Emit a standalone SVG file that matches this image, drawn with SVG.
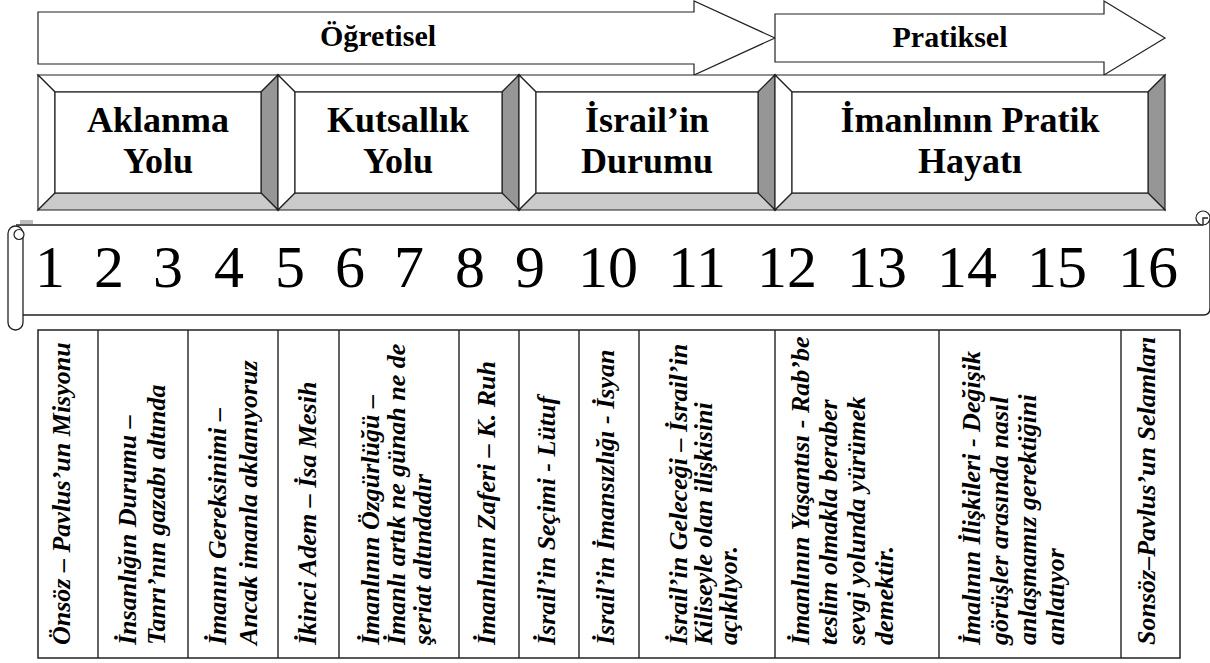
<svg xmlns="http://www.w3.org/2000/svg" width="1210" height="663" viewBox="0 0 1210 663">
<style>
.ln{fill:none;stroke:#222;stroke-width:1.4}
.wh{fill:#fff;stroke:#222;stroke-width:1.2;stroke-linejoin:miter}
.dk{fill:#969696;stroke:#222;stroke-width:1.2}
.lt{fill:#cbcbcb;stroke:#222;stroke-width:1.2}
text{font-family:'Liberation Serif','DejaVu Serif',serif;fill:#000}
.hd{font-weight:bold;font-size:30px;text-anchor:middle}
.bt{font-weight:bold;font-size:36px;text-anchor:middle}
.nm{font-size:60px;text-anchor:middle}
.tx{font-weight:bold;font-style:italic;font-size:26px}
</style>
<rect width="1210" height="663" fill="#fff"/>

<g id="arrow-ogretisel">
<polygon class="wh" points="38,12 694,12 694,1 775,38 694,75 694,64 38,64"/>
<text class="hd" x="378" y="46">Öğretisel</text>
</g>
<g id="arrow-pratiksel">
<polygon class="wh" points="775,14 1104,14 1104,1 1165,38 1104,75 1104,62 775,62"/>
<text class="hd" x="950" y="47">Pratiksel</text>
</g>

<g id="box-aklanma">
<polygon class="wh" points="38,75 278,75 261,92 55,92"/>
<polygon class="wh" points="38,75 55,92 55,193 38,210"/>
<polygon class="dk" points="278,75 278,210 261,193 261,92"/>
<polygon class="lt" points="38,210 55,193 261,193 278,210"/>
<rect class="wh" x="55" y="92" width="206" height="101"/>
<text class="bt" x="158" y="132">Aklanma</text>
<text class="bt" x="158" y="173">Yolu</text>
</g>
<g id="box-kutsallik">
<polygon class="wh" points="278,75 519,75 502,92 295,92"/>
<polygon class="wh" points="278,75 295,92 295,193 278,210"/>
<polygon class="dk" points="519,75 519,210 502,193 502,92"/>
<polygon class="lt" points="278,210 295,193 502,193 519,210"/>
<rect class="wh" x="295" y="92" width="207" height="101"/>
<text class="bt" x="398" y="132">Kutsallık</text>
<text class="bt" x="398" y="173">Yolu</text>
</g>
<g id="box-israil">
<polygon class="wh" points="519,75 775,75 758,92 536,92"/>
<polygon class="wh" points="519,75 536,92 536,193 519,210"/>
<polygon class="dk" points="775,75 775,210 758,193 758,92"/>
<polygon class="lt" points="519,210 536,193 758,193 775,210"/>
<rect class="wh" x="536" y="92" width="222" height="101"/>
<text class="bt" x="647" y="132">İsrail’in</text>
<text class="bt" x="647" y="173">Durumu</text>
</g>
<g id="box-pratik">
<polygon class="wh" points="775,75 1165,75 1148,92 792,92"/>
<polygon class="wh" points="775,75 792,92 792,193 775,210"/>
<polygon class="dk" points="1165,75 1165,210 1148,193 1148,92"/>
<polygon class="lt" points="775,210 792,193 1148,193 1165,210"/>
<rect class="wh" x="792" y="92" width="356" height="101"/>
<text class="bt" x="970" y="132">İmanlının Pratik</text>
<text class="bt" x="970" y="173">Hayatı</text>
</g>

<g id="scroll">
<rect x="20" y="220" width="13" height="4" fill="#bdbdbd"/>
<path d="M23,225 H1203 L1210,218 V308 Q1210,315 1203,315 H23 Z" fill="#fff" stroke="none"/>
<path class="ln" d="M16,225 H1203 M1210,218 V308 Q1210,315 1203,315 H23"/>
<circle cx="1203" cy="218" r="7" fill="#fff" stroke="#222" stroke-width="1.2"/>
<path class="ln" d="M1203,225 V218 H1208" stroke-width="1"/>
<rect x="8" y="226" width="15" height="104" rx="7.5" fill="#fff" stroke="#222" stroke-width="1.3"/>
<circle cx="19" cy="234.5" r="5" fill="#fff" stroke="#222" stroke-width="1.2"/>
<text class="nm" x="50" y="287">1</text>
<text class="nm" x="109" y="287">2</text>
<text class="nm" x="168" y="287">3</text>
<text class="nm" x="229" y="287">4</text>
<text class="nm" x="290" y="287">5</text>
<text class="nm" x="350" y="287">6</text>
<text class="nm" x="409" y="287">7</text>
<text class="nm" x="470" y="287">8</text>
<text class="nm" x="530" y="287">9</text>
<text class="nm" x="608" y="287">10</text>
<text class="nm" x="697" y="287">11</text>
<text class="nm" x="787" y="287">12</text>
<text class="nm" x="877" y="287">13</text>
<text class="nm" x="967" y="287">14</text>
<text class="nm" x="1057" y="287">15</text>
<text class="nm" x="1148" y="287">16</text>
</g>

<g id="table">
<rect x="38" y="330" width="1142" height="328" fill="#fff" stroke="#222" stroke-width="1.5"/>
<path class="ln" d="M98,330V658 M188,330V658 M278,330V658 M339,330V658 M459,330V658 M519,330V658 M579,330V658 M639,330V658 M775,330V658 M939,330V658 M1121,330V658"/>
<text class="tx" transform="translate(70,645) rotate(-90)">Önsöz – Pavlus’un Misyonu</text>
<text class="tx" transform="translate(136,645) rotate(-90)">İnsanlığın Durumu –</text>
<text class="tx" transform="translate(165,645) rotate(-90)">Tanrı’nın gazabı altında</text>
<text class="tx" transform="translate(226,645) rotate(-90)">İmanın Gereksinimi –</text>
<text class="tx" transform="translate(257,645) rotate(-90)">Ancak imanla aklanıyoruz</text>
<text class="tx" transform="translate(316,645) rotate(-90)">İkinci Adem – İsa Mesih</text>
<text class="tx" transform="translate(379,645) rotate(-90)">İmanlının Özgürlüğü –</text>
<text class="tx" transform="translate(405,645) rotate(-90)">İmanlı artık ne günah ne de</text>
<text class="tx" transform="translate(431,645) rotate(-90)">şeriat altındadır</text>
<text class="tx" transform="translate(495,645) rotate(-90)">İmanlının Zaferi – K. Ruh</text>
<text class="tx" transform="translate(555,645) rotate(-90)">İsrail’in Seçimi - Lütuf</text>
<text class="tx" transform="translate(614,645) rotate(-90)">İsrail’in İmansızlığı - İsyan</text>
<text class="tx" transform="translate(687,645) rotate(-90)">İsrail’in Geleceği – İsrail’in</text>
<text class="tx" transform="translate(712,645) rotate(-90)">Kiliseyle olan ilişkisini</text>
<text class="tx" transform="translate(737,645) rotate(-90)">açıklıyor.</text>
<text class="tx" transform="translate(809,645) rotate(-90)">İmanlının Yaşantısı - Rab’be</text>
<text class="tx" transform="translate(837,645) rotate(-90)">teslim olmakla beraber</text>
<text class="tx" transform="translate(865,645) rotate(-90)">sevgi yolunda yürümek</text>
<text class="tx" transform="translate(893,645) rotate(-90)">demektir.</text>
<text class="tx" transform="translate(980,645) rotate(-90)">İmalının İlişkileri - Değişik</text>
<text class="tx" transform="translate(1008,645) rotate(-90)">görüşler arasında nasıl</text>
<text class="tx" transform="translate(1036,645) rotate(-90)">anlaşmamız gerektiğini</text>
<text class="tx" transform="translate(1064,645) rotate(-90)">anlatıyor</text>
<text class="tx" transform="translate(1155,645) rotate(-90)">Sonsöz–Pavlus’un Selamları</text>
</g>
</svg>
